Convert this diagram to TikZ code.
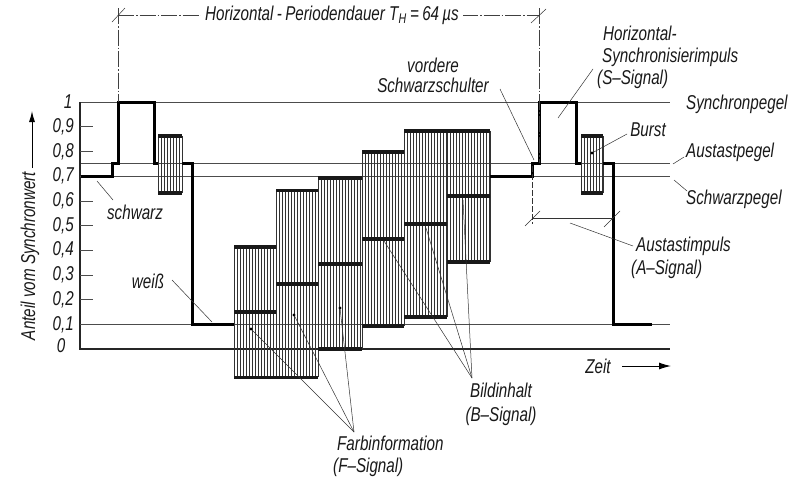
\documentclass[tikz,border=0pt]{standalone}
\usepackage{fontspec}
\setmainfont{Liberation Sans}[FakeStretch=0.76]
\usetikzlibrary{arrows.meta}
\newcommand\yv[1]{349-247*(#1)}
\begin{document}
\begin{tikzpicture}[x=1pt,y=-1pt,
  lbl/.style={font=\fontsize{20}{22}\selectfont\itshape, inner sep=0pt, text=black!90},
  refline/.style={line width=0.6pt, draw=black!70},
  axisline/.style={line width=1.1pt, draw=black!85},
  sig/.style={line width=3pt, draw=black, line join=miter},
  barline/.style={line width=3.6pt, draw=black!90},
  hatch/.style={line width=0.6pt, draw=black!80},
  leader/.style={line width=0.5pt, draw=black!80},
  dimline/.style={line width=0.5pt, draw=black!75, dash pattern=on 16pt off 2pt on 1.5pt off 2pt},
  dot/.style={fill=black}]
\useasboundingbox (0,0) rectangle (795,480);
\fill[white] (0,0) rectangle (795,480);

% reference levels
\draw[refline] (80,{\yv{1}}) -- (670,{\yv{1}});
\draw[refline] (80,{\yv{0.75}}) -- (670,{\yv{0.75}});
\draw[refline] (80,{\yv{0.7}}) -- (670,{\yv{0.7}});
\draw[refline] (80,{\yv{0.1}}) -- (670,{\yv{0.1}});
% axes
\draw[axisline] (80,{\yv{1}}) -- (80,{\yv{0}}) -- (670,{\yv{0}});
\foreach \v/\t [count=\i] in {0.9/{0,9},0.8/{0,8},0.7/{0,7},0.6/{0,6},0.5/{0,5},0.4/{0,4},0.3/{0,3},0.2/{0,2},0.1/{0,1}}{
  \draw[refline] (80,{\yv{\v}}) -- (93,{\yv{\v}});
  \node[lbl, anchor=east] (tick\i) at (74,{\yv{\v}}) {\t};
}
\node[lbl] (tickone) at (68,{\yv{1}}) {1};
\node[lbl] (tickzero) at (61,{\yv{0}-3}) {0};

% y-axis label
\node[lbl, rotate=90] (ylab) at (30,256) {Anteil vom Synchronwert};
\coordinate (yarrA) at (32,168);
\coordinate (yarrB) at (32,111);
\draw[line width=1pt, -{Latex[length=11pt,width=6pt]}] (yarrA) -- (yarrB);

% Zeit arrow
\node[lbl] (zeit) at (598,366) {Zeit};
\coordinate (zarrA) at (622,366);
\coordinate (zarrB) at (671,366);
\draw[line width=1pt, -{Latex[length=12pt,width=7pt]}] (zarrA) -- (zarrB);

% hatched bars (colour information)
\foreach \xa/\xb/\tp/\bt in {234/276/0.414/-0.115, 276/318/0.641/-0.115, 318/362/0.692/0, 362/404/0.797/0.093, 404/447/0.883/0.13, 447/490/0.883/0.353, 158/182/0.862/0.632, 581/603/0.862/0.632}{
  \pgfmathsetmacro\xs{\xa+3}
  \foreach \x in {\xa,\xs,...,\xb} \draw[hatch] (\x,{\yv{\tp}}) -- (\x,{\yv{\bt}});
  \draw[hatch] (\xb,{\yv{\tp}}) -- (\xb,{\yv{\bt}});
}
% thick bar edges
\draw[barline] (234,{\yv{0.414}}) -- (276,{\yv{0.414}});
\draw[barline] (276,{\yv{0.641}}) -- (318,{\yv{0.641}});
\draw[barline] (318,{\yv{0.692}}) -- (362,{\yv{0.692}});
\draw[barline] (362,{\yv{0.797}}) -- (404,{\yv{0.797}});
\draw[barline] (404,{\yv{0.883}}) -- (490,{\yv{0.883}});
\draw[barline] (234,{\yv{0.15}}) -- (276,{\yv{0.15}});
\draw[barline] (276,{\yv{0.263}}) -- (318,{\yv{0.263}});
\draw[barline] (318,{\yv{0.344}}) -- (362,{\yv{0.344}});
\draw[barline] (362,{\yv{0.445}}) -- (404,{\yv{0.445}});
\draw[barline] (404,{\yv{0.506}}) -- (447,{\yv{0.506}});
\draw[barline] (447,{\yv{0.62}}) -- (490,{\yv{0.62}});
\draw[barline] (234,{\yv{-0.115}}) -- (318,{\yv{-0.115}});
\draw[barline] (318,{\yv{0}}) -- (362,{\yv{0}});
\draw[barline] (362,{\yv{0.093}}) -- (404,{\yv{0.093}});
\draw[barline] (404,{\yv{0.13}}) -- (447,{\yv{0.13}});
\draw[barline] (447,{\yv{0.353}}) -- (490,{\yv{0.353}});
% bursts
\draw[barline] (158,{\yv{0.862}}) -- (182,{\yv{0.862}});
\draw[barline] (158,{\yv{0.632}}) -- (182,{\yv{0.632}});
\draw[barline] (581,{\yv{0.862}}) -- (603,{\yv{0.862}});
\draw[barline] (581,{\yv{0.632}}) -- (603,{\yv{0.632}});

% signal
\draw[sig] (81,{\yv{0.7}}) -- (112,{\yv{0.7}}) -- (112,{\yv{0.75}}) -- (118,{\yv{0.75}}) -- (118,{\yv{1}}) -- (154,{\yv{1}}) -- (154,{\yv{0.75}}) -- (158,{\yv{0.75}});
\draw[sig] (182,{\yv{0.75}}) -- (192,{\yv{0.75}}) -- (192,{\yv{0.1}}) -- (234,{\yv{0.1}});
\draw[sig] (490,{\yv{0.7}}) -- (532,{\yv{0.7}}) -- (532,{\yv{0.75}}) -- (539,{\yv{0.75}}) -- (539,{\yv{1}}) -- (576,{\yv{1}}) -- (576,{\yv{0.75}}) -- (581,{\yv{0.75}});
\draw[sig] (603,{\yv{0.75}}) -- (613,{\yv{0.75}}) -- (613,{\yv{0.1}}) -- (652,{\yv{0.1}});

% period dimension
\coordinate (tl) at (118,15);
\coordinate (tr) at (539,15);
\draw[dimline] (118,8) -- (118,102);
\draw[dimline] (539,8) -- (539,163);
\draw[dimline] (tl) -- (tr);
\draw[leader] (112,22) -- (125,8);
\draw[leader] (531,23) -- (546,9);
\node[lbl, fill=white, inner xsep=4pt] (period) at (332,15) {Horizontal\,-\,Periodendauer T\textsubscript{H}\,=\,64\,µs};

% blanking dimension
\coordinate (al) at (532,218);
\coordinate (ar) at (613,218);
\draw[leader, dash pattern=on 6pt off 2pt] (532,166) -- (532,224);
\draw[leader] (al) -- (ar);
\draw[leader] (525,226) -- (540,211);
\draw[leader] (604,227) -- (620,211);

% labels
\node[lbl] (schwarz) at (135,212) {schwarz};
\node[lbl] (weiss) at (148,281) {weiß};
\node[lbl, align=center, font=\fontsize{20}{20}\selectfont\itshape] (vordere) at (433,75) {vordere\\Schwarzschulter};
\node[lbl, align=left, anchor=west] (hsync) at (597,57) {\hspace{6pt}Horizontal-\\\hspace{5pt}Synchronisierimpuls\\(S–Signal)};
\node[lbl, anchor=west] (synpeg) at (686,104) {Synchronpegel};
\node[lbl] (burst) at (648,130) {Burst};
\node[lbl, anchor=west] (auspeg) at (686,152) {Austastpegel};
\node[lbl, anchor=west] (schpeg) at (686,199) {Schwarzpegel};
\node[lbl, align=left, anchor=west, font=\fontsize{20}{23}\selectfont\itshape] (austast) at (631,258) {\hspace{5pt}Austastimpuls\\(A–Signal)};
\node[lbl, align=center, font=\fontsize{20}{24}\selectfont\itshape] (bild) at (501,404) {Bildinhalt\\(B–Signal)};
\node[lbl, align=left, anchor=west] (farb) at (333,456) {\hspace{4pt}Farbinformation\\(F–Signal)};

% leader coordinates
\coordinate (schwarzA) at (97,181);
\coordinate (schwarzB) at (113,200);
\coordinate (weissA) at (172,280);
\coordinate (weissB) at (212,322);
\coordinate (vordA) at (500,89);
\coordinate (vordB) at (534,160);
\coordinate (hsA) at (593,69);
\coordinate (hsB) at (558,118);
\coordinate (burstA) at (627,134);
\coordinate (burstB) at (592,153);
\coordinate (apA) at (684,157);
\coordinate (apB) at (673,164);
\coordinate (spA) at (674,180);
\coordinate (spB) at (687,191);
\coordinate (aiA) at (570,223);
\coordinate (aiB) at (633,246);
\coordinate (fConv) at (354,432);
\coordinate (f1) at (251,329);
\coordinate (f2) at (294,315);
\coordinate (f3) at (340,308);
\coordinate (bConv) at (472,378);
\coordinate (b1) at (384,241);
\coordinate (b2) at (426,228);
\coordinate (b3) at (463,200);

\draw[leader] (schwarzA) -- (schwarzB);
\draw[leader] (weissA) -- (weissB);
\draw[leader] (vordA) -- (vordB);
\draw[leader] (hsA) -- (hsB);
\draw[leader] (burstA) -- (burstB);
\fill[dot] (burstB) circle (1.6pt);
\draw[leader] (apA) -- (apB);
\draw[leader] (spA) -- (spB);
\draw[leader] (aiA) -- (aiB);
\foreach \p in {f1,f2,f3}{
  \draw[leader] (fConv) -- (\p);
  \fill[dot] (\p) circle (1.6pt);
}
\foreach \p in {b1,b2,b3}{
  \draw[leader] (bConv) -- (\p);
}
\end{tikzpicture}
\end{document}
